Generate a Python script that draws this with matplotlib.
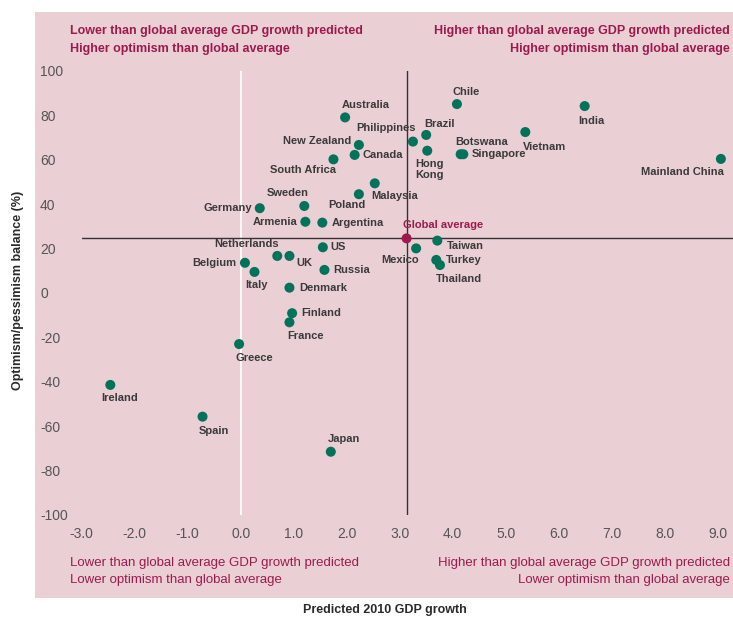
import matplotlib.pyplot as plt
from matplotlib.patches import Rectangle

# survey data: predicted GDP growth vs optimism balance
countries = ['Chile', 'India', 'Australia', 'Brazil', 'Philippines', 'Vietnam',
             'New Zealand', 'Canada', 'Hong\nKong', 'Botswana', 'Singapore',
             'Mainland China', 'South Africa', 'Malaysia', 'Poland', 'Sweden',
             'Germany', 'Armenia', 'Argentina', 'Taiwan', 'Mexico', 'US',
             'Netherlands', 'UK', 'Belgium', 'Italy', 'Russia', 'Turkey',
             'Thailand', 'Denmark', 'Finland', 'France', 'Greece', 'Ireland',
             'Spain', 'Japan']
growth = [4.08, 6.49, 1.97, 3.50, 3.25, 5.37,
          2.23, 2.15, 3.52, 4.15, 4.20,
          9.06, 1.75, 2.53, 2.23, 1.20,
          0.36, 1.22, 1.54, 3.71, 3.31, 1.55,
          0.69, 0.92, 0.08, 0.26, 1.58, 3.69,
          3.76, 0.92, 0.97, 0.92, -0.03, -2.46,
          -0.72, 1.70]
balance = [85.1, 84.2, 79.1, 71.2, 68.2, 72.5,
           66.7, 62.2, 64.1, 62.5, 62.5,
           60.4, 60.2, 49.4, 44.5, 39.2,
           38.2, 32.1, 31.7, 23.6, 20.1, 20.6,
           16.7, 16.7, 13.6, 9.5, 10.4, 14.9,
           12.6, 2.4, -9.1, -13.2, -23.0, -41.4,
           -55.7, -71.5]
global_growth = 3.13
global_balance = 24.6

xticks = [-3, -2, -1, 0, 1, 2, 3, 4, 5, 6, 7, 8, 9]
yticks = [100, 80, 60, 40, 20, 0, -20, -40, -60, -80, -100]

# label placement: (dx px, dy px downward, ha)
label_pos = {
    'Chile': (9, -12, 'center'), 'India': (7, 15, 'center'),
    'Australia': (-3, -12, 'left'), 'Brazil': (13, -11, 'center'),
    'Philippines': (3, -14, 'right'), 'Vietnam': (19, 15, 'center'),
    'New Zealand': (-8, -4, 'right'), 'Canada': (8, 0, 'left'),
    'Hong\nKong': (-12, 19, 'left'), 'Botswana': (-5, -12, 'left'),
    'Singapore': (8, 0, 'left'), 'Mainland China': (3, 13, 'right'),
    'South Africa': (3, 11, 'right'), 'Malaysia': (-4, 13, 'left'),
    'Poland': (-12, 11, 'center'), 'Sweden': (-17, -13, 'center'),
    'Germany': (-8, 0, 'right'), 'Armenia': (-8, 0, 'right'),
    'Argentina': (9, 0, 'left'), 'Taiwan': (10, 5, 'left'),
    'Mexico': (3, 12, 'right'), 'US': (8, 0, 'left'),
    'Netherlands': (2, -12, 'right'), 'UK': (7, 7, 'left'),
    'Belgium': (-9, 0, 'right'), 'Italy': (2, 13, 'center'),
    'Russia': (9, 0, 'left'), 'Turkey': (10, 0, 'left'),
    'Thailand': (-4, 14, 'left'), 'Denmark': (10, 0, 'left'),
    'Finland': (9, 0, 'left'), 'France': (-2, 14, 'left'),
    'Greece': (-4, 14, 'left'), 'Ireland': (-9, 13, 'left'),
    'Spain': (-4, 14, 'left'), 'Japan': (-3, -13, 'left'),
}

pink = '#EACFD5'
green = '#00735A'
crimson = '#9E1A4E'
narrow = ['Liberation Sans Narrow', 'Liberation Sans', 'DejaVu Sans']
plt.rcParams['font.family'] = ['Liberation Sans', 'DejaVu Sans']

fig = plt.figure(figsize=(7.33, 6.18), dpi=100)
fig.patch.set_facecolor('white')
fig.patches.append(Rectangle((35 / 733, 1 - 598 / 618), 1 - 35 / 733, (598 - 12) / 618,
                             transform=fig.transFigure, facecolor=pink,
                             edgecolor='none', zorder=0))

ax = fig.add_axes([81.7 / 733, 1 - 515 / 618, (733 - 81.7) / 733, 444 / 618])
ax.set_zorder(2)
ax.patch.set_alpha(0)
for s in ax.spines.values():
    s.set_visible(False)
ax.set_xlim(-3.0, -3.0 + (733 - 81.7) / 53.0)
ax.set_ylim(-100, 100)

ax.axvline(0, color='white', lw=1.2, zorder=1)
ax.axvline(global_growth, color='#333333', lw=1.0, zorder=1)
ax.axhline(global_balance, color='#333333', lw=1.0, zorder=1)

ax.scatter(growth, balance, s=52, color=green, edgecolor='none', zorder=3)
ax.scatter([global_growth], [global_balance], s=52, color=crimson,
           edgecolor='none', zorder=4)

for name, gx, by in zip(countries, growth, balance):
    dx, dy, ha = label_pos[name]
    ax.annotate(name, (gx, by), xytext=(dx, -dy), textcoords='offset pixels',
                ha=ha, va='center', fontsize=8, fontweight='bold',
                color='#3a3a3a', linespacing=1.15, zorder=5)
ax.annotate('Global average', (global_growth, global_balance), xytext=(-4, 13),
            textcoords='offset pixels', ha='left', va='center', fontsize=8,
            fontweight='bold', color=crimson, zorder=5)

ax.set_xticks(xticks)
ax.set_xticklabels([f'{v:.1f}' for v in xticks], family=narrow, fontsize=10,
                   color='#555555')
ax.set_yticks(yticks)
ax.set_yticklabels([str(v) for v in yticks], family=narrow, fontsize=10,
                   color='#555555', ha='left')
ax.tick_params(axis='x', length=0, pad=9)
ax.tick_params(axis='y', length=0, pad=30)

# quadrant notes
qkw = dict(color=crimson, transform=fig.transFigure, va='center')
fig.text(70 / 733, 1 - 31 / 618, 'Lower than global average GDP growth predicted',
         ha='left', fontweight='bold', fontsize=9, **qkw)
fig.text(70 / 733, 1 - 49 / 618, 'Higher optimism than global average',
         ha='left', fontweight='bold', fontsize=9, **qkw)
fig.text(730 / 733, 1 - 31 / 618, 'Higher than global average GDP growth predicted',
         ha='right', fontweight='bold', fontsize=9, **qkw)
fig.text(730 / 733, 1 - 49 / 618, 'Higher optimism than global average',
         ha='right', fontweight='bold', fontsize=9, **qkw)
fig.text(70 / 733, 1 - 563 / 618, 'Lower than global average GDP growth predicted',
         ha='left', family=narrow, fontsize=9.5, **qkw)
fig.text(70 / 733, 1 - 580 / 618, 'Lower optimism than global average',
         ha='left', family=narrow, fontsize=9.5, **qkw)
fig.text(730 / 733, 1 - 563 / 618, 'Higher than global average GDP growth predicted',
         ha='right', family=narrow, fontsize=9.5, **qkw)
fig.text(730 / 733, 1 - 580 / 618, 'Lower optimism than global average',
         ha='right', family=narrow, fontsize=9.5, **qkw)

fig.text(385 / 733, 1 - 610 / 618, 'Predicted 2010 GDP growth', ha='center',
         va='center', fontsize=9, fontweight='bold', color='#2a2a2a')
fig.text(18 / 733, 1 - 290 / 618, 'Optimism/pessimism balance (%)', ha='center',
         va='center', rotation=90, fontsize=9, fontweight='bold', color='#2a2a2a')

fig.savefig('out.png', dpi=100, facecolor='white')
